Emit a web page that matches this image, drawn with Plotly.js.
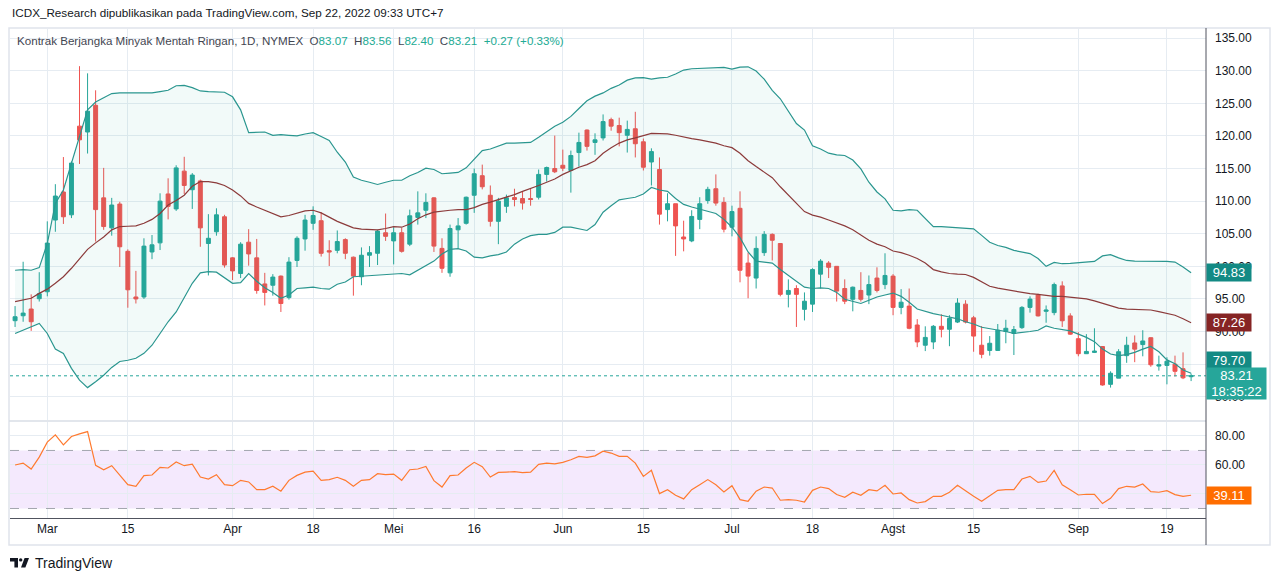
<!DOCTYPE html>
<html>
<head>
<meta charset="utf-8">
<script src="https://cdn.plot.ly/plotly-3.0.1.min.js"></script>
<style>
  html, body { margin: 0; padding: 0; background: #fff; }
  #chart { width: 1280px; height: 581px; }
</style>
</head>
<body>
<div id="chart"></div>
<script>
// trading days shown on the chart (NYMEX holidays left out)
var febDays = [23,24,25,28];
var marDays = [1,2,3,4,7,8,9,10,11,14,15,16,17,18,21,22,23,24,25,28,29,30,31];
var aprDays = [1,4,5,6,7,8,11,12,13,14,18,19,20,21,22,25,26,27,28,29];
var mayDays = [2,3,4,5,6,9,10,11,12,13,16,17,18,19,20,23,24,25,26,27,31];
var junDays = [1,2,3,6,7,8,9,10,13,14,15,16,17,21,22,23,24,27,28,29,30];
var julDays = [1,5,6,7,8,11,12,13,14,15,18,19,20,21,22,25,26,27,28,29];
var augDays = [1,2,3,4,5,8,9,10,11,12,15,16,17,18,19,22,23,24,25,26,29,30,31];
var sepDays = [1,2,6,7,8,9,12,13,14,15,16,19,20,21,22];

var tickDates = ['2022-03-01','2022-03-15','2022-04-01','2022-04-18','2022-05-02','2022-05-16',
  '2022-06-01','2022-06-15','2022-07-01','2022-07-18','2022-08-01','2022-08-15','2022-09-01','2022-09-19'];
var tickText = ['Mar','15','Apr','18','Mei','16','Jun','15','Jul','18','Agst','15','Sep','19'];

var priceTicks = [80,85,90,95,100,105,110,115,120,125,130,135];
var rsiTicks = [40,60,80];

var opens = [91.66,92.42,93.45,95.03,96.1,107.1,111.4,107.9,121.5,120.6,
  124.7,110.5,105.9,109.55,102.3,95.3,95.3,102.2,103.6,111.1,
  108.8,114.6,111.75,113.1,103.5,105.3,107.6,101.3,98.9,103.7,
  101.3,97.3,97.1,98.5,95.2,100.9,104.2,106.6,107.0,102.4,
  102.45,104.1,101.4,98.4,101.7,102.0,105.15,103.9,105.15,103.4,
  107.5,108.6,110.5,102.75,99.0,105.6,106.6,110.9,113.9,110.9,
  106.9,109.2,110.55,110.4,110.4,110.6,114.1,115.0,115.5,114.7,
  117.45,120.9,119.0,119.7,122.5,121.6,120.1,121.1,119.1,116.0,
  114.85,108.7,109.6,104.5,103.9,107.2,110.1,111.9,109.8,106.0,
  108.9,100.5,98.2,102.1,104.9,103.5,95.7,96.6,93.4,94.2,
  98.8,100.5,100.0,96.6,94.95,96.3,95.6,98.2,97.2,98.5,
  93.7,93.9,91.0,87.9,88.4,90.8,90.35,91.45,94.2,92.1,
  87.9,87.1,87.1,90.0,89.7,90.6,93.7,95.6,93.1,92.9,
  97.0,92.4,88.9,86.6,86.8,87.7,81.9,82.85,86.3,88.25,
  88.0,89.05,84.7,84.8,85.0,84.3,83.07];

var highs = [93.9,100.7,95.7,99.1,106.9,112.6,116.76,116.1,130.7,129.6,
  127.0,115.1,110.5,109.9,102.6,99.3,104.3,104.8,111.2,113.5,
  115.5,116.8,114.3,113.3,108.0,108.9,107.9,101.4,103.7,105.7,
  104.2,99.0,98.8,98.6,101.4,104.6,107.9,109.2,108.3,104.0,
  105.5,104.3,101.5,102.9,103.1,105.6,108.1,106.0,105.9,108.7,
  111.5,111.2,110.6,104.3,106.4,107.4,110.7,115.0,115.6,112.4,
  110.5,111.0,111.9,111.5,111.9,114.85,115.3,120.05,117.9,117.75,
  120.5,121.0,120.4,123.3,122.8,122.8,122.35,123.7,119.6,118.1,
  116.7,111.2,109.6,107.0,108.6,110.6,112.2,114.1,110.6,109.3,
  111.5,102.1,104.6,105.4,105.05,103.5,98.0,97.1,96.0,99.7,
  101.1,100.8,100.0,98.0,96.9,99.1,98.6,99.85,102.0,98.8,
  96.5,96.6,91.9,90.8,91.0,92.65,92.5,95.1,94.8,92.4,
  90.85,89.3,91.15,91.8,90.85,93.9,95.4,95.8,94.0,97.5,
  97.7,92.8,89.9,89.6,90.5,87.7,83.9,87.3,89.2,89.4,
  90.2,89.1,86.3,86.05,86.3,86.8,83.56];

var lows = [90.7,91.5,90.1,94.6,95.4,105.3,106.5,107.4,115.7,117.3,
  103.8,105.6,104.7,99.9,93.65,94.3,95.0,101.1,102.5,107.2,
  108.5,111.1,108.8,103.0,98.6,104.7,99.8,97.9,98.2,100.1,
  95.8,94.0,95.5,93.0,94.9,99.9,102.4,105.6,101.5,100.05,
  102.0,101.1,95.5,97.1,99.9,100.2,103.9,100.3,102.1,103.1,
  106.4,107.4,102.2,99.0,98.4,102.75,106.4,108.2,111.8,106.1,
  103.4,108.2,109.2,108.7,109.3,110.25,113.0,114.3,114.6,111.3,
  115.3,117.75,117.1,119.3,120.8,118.4,117.45,116.7,114.7,112.4,
  106.4,106.9,101.6,102.3,103.7,105.7,109.6,109.3,105.2,104.6,
  97.55,95.1,96.6,101.6,100.9,95.4,93.7,90.7,91.7,93.0,
  96.6,98.2,94.6,94.2,93.1,94.6,94.2,96.0,96.5,92.5,
  92.65,90.35,87.6,87.0,87.3,89.1,87.75,91.3,91.25,86.9,
  85.9,86.3,87.1,88.2,86.4,90.4,92.9,92.3,91.35,92.5,
  90.7,89.5,86.2,86.55,86.7,81.7,81.4,82.85,85.2,85.3,
  86.2,84.6,84.0,81.9,83.1,82.7,82.40];

var closes = [92.27,92.83,91.5,95.8,103.57,110.78,107.6,115.84,119.4,123.8,
  108.7,106.1,109.4,103.0,96.4,95.0,103.1,103.3,110.0,109.2,
  115.1,112.4,114.0,105.9,104.3,107.9,100.2,99.3,103.4,101.9,
  96.3,96.0,98.35,94.3,100.65,104.3,107.1,107.8,102.0,102.2,
  103.8,102.0,98.5,101.7,102.1,105.4,104.6,105.15,102.3,107.75,
  108.2,109.8,103.1,99.7,105.8,106.2,110.6,114.2,112.2,106.9,
  110.0,110.5,110.25,109.7,110.25,114.1,115.15,114.5,115.05,117.0,
  119.0,118.4,119.4,122.2,121.5,120.5,121.0,118.8,115.2,117.6,
  108.0,109.6,106.2,104.2,107.65,109.6,111.8,109.7,105.7,108.4,
  99.4,98.5,102.75,104.9,104.0,95.7,96.3,95.7,94.65,99.5,
  100.8,99.85,96.2,94.65,96.8,94.95,97.2,96.3,98.6,93.7,
  94.5,90.5,88.4,89.1,90.8,90.35,92.0,94.36,91.45,89.3,
  86.5,88.2,90.2,90.5,90.3,93.7,94.97,92.4,93.3,97.2,
  91.65,89.6,86.6,86.95,87.0,81.8,83.6,86.9,87.9,87.3,
  88.55,84.9,84.9,85.45,83.9,82.9,83.21];

// Bollinger band lines
var upperBand = [99.4,99.5,99.4,99.8,103.5,109.65,111.7,115.8,119.6,124.0,
  125.2,125.8,126.5,126.6,126.6,126.55,126.5,126.6,126.8,127.0,
  127.7,127.75,127.4,126.9,126.8,126.8,126.7,126.0,124.0,120.5,
  120.5,120.6,120.1,120.2,120.1,120.0,120.3,120.5,119.9,119.3,
  117.5,116.0,113.7,113.2,112.9,112.55,112.9,113.2,113.2,113.9,
  114.4,115.05,114.85,114.2,114.3,114.4,115.1,116.5,117.75,118.0,
  118.5,118.9,118.9,118.9,119.0,119.8,120.6,121.5,122.1,123.0,
  124.2,125.4,126.1,126.6,127.3,127.8,128.55,128.9,128.95,128.7,
  128.9,129.0,129.5,130.1,130.3,130.35,130.35,130.4,130.5,130.25,
  130.55,130.6,129.95,128.7,127.0,125.7,123.9,121.9,120.9,118.5,
  118.0,117.35,117.1,117.0,116.3,114.95,112.9,111.4,110.35,108.6,
  108.5,108.7,108.6,107.3,106.1,106.1,106.0,105.9,105.9,105.75,
  104.75,103.7,103.2,102.9,102.45,102.15,101.95,101.2,100.0,100.6,
  100.4,100.45,100.55,100.65,100.75,101.6,101.8,101.3,100.9,100.8,
  100.8,100.8,100.8,100.75,100.65,99.9,99.0];

var middleBand = [94.6,94.85,95.1,95.85,96.5,97.4,98.4,99.7,101.1,102.6,
  103.6,104.5,105.6,106.1,106.15,106.2,106.6,107.2,108.1,109.4,
  110.1,110.9,112.3,113.0,113.0,112.8,112.4,111.7,110.8,109.65,
  109.1,108.6,108.1,107.6,107.8,108.1,108.5,108.6,108.2,107.55,
  106.9,106.4,105.9,105.7,105.6,105.6,105.8,106.1,106.0,106.5,
  107.3,107.9,108.3,108.5,108.6,108.7,108.7,109.0,109.5,109.85,
  110.2,110.6,111.0,111.5,111.9,112.4,112.9,113.4,114.1,114.7,
  115.2,115.6,116.2,117.35,118.2,118.9,119.4,119.7,120.0,120.4,
  120.35,120.3,120.1,119.8,119.6,119.4,119.2,118.9,118.5,118.2,
  117.35,116.2,115.3,114.4,113.6,112.2,110.9,109.6,108.4,107.85,
  107.55,107.1,106.7,106.2,105.6,104.8,104.0,103.4,103.0,102.35,
  102.1,101.7,101.2,100.5,99.5,99.15,98.9,98.8,98.75,98.3,
  97.6,96.95,96.65,96.45,96.15,96.0,95.8,95.7,95.5,95.4,
  95.4,95.3,95.2,95.0,94.7,94.3,93.9,93.6,93.45,93.4,
  93.45,93.3,93.05,92.8,92.5,91.95,91.35];

var lowerBand = [89.7,90.2,90.8,91.25,89.7,87.3,86.65,84.35,82.55,81.4,
  82.3,83.3,84.5,85.4,85.6,85.9,86.65,87.9,89.7,91.5,
  93.0,95.1,97.4,99.0,99.2,99.1,98.25,97.4,97.5,98.9,
  97.7,96.7,96.0,95.1,95.6,96.6,96.7,96.8,96.6,96.5,
  97.25,97.6,98.4,98.5,98.5,98.7,98.8,98.9,98.9,98.7,
  99.4,100.05,100.8,101.9,102.6,102.7,102.35,101.4,101.3,101.6,
  101.8,102.2,103.4,104.2,104.7,104.9,104.9,105.2,106.0,106.0,
  105.8,105.5,106.4,108.3,109.3,110.2,110.4,110.6,111.1,112.1,
  111.7,111.5,110.4,109.5,109.1,108.8,108.5,108.1,107.2,106.0,
  104.4,102.2,100.8,100.6,100.5,99.5,98.6,97.75,96.8,96.6,
  96.7,96.6,96.0,94.95,94.6,94.3,94.8,95.3,95.6,95.9,
  95.4,94.5,93.45,93.05,92.75,92.5,92.25,91.95,91.5,91.15,
  90.65,90.45,90.2,90.0,89.7,89.8,90.0,90.2,90.85,90.5,
  90.35,90.1,89.6,89.1,88.45,87.3,86.55,86.3,86.45,86.8,
  87.3,87.7,86.9,85.65,85.05,84.1,83.6];

var rsi = [60.0,61.3,57.2,65.4,75.7,80.75,73.9,79.6,81.4,83.0,
  59.7,56.7,59.5,52.6,46.4,45.3,52.6,53.1,58.3,57.9,
  62.0,59.5,60.6,51.7,50.3,53.3,46.4,45.7,49.4,48.3,
  43.0,43.0,45.3,41.9,49.4,52.8,55.1,55.8,49.4,49.9,
  51.5,49.4,45.3,49.4,49.9,54.0,53.3,53.75,49.4,56.7,
  57.2,59.0,49.2,44.8,52.6,53.1,57.9,61.8,58.8,51.7,
  54.9,55.1,55.4,54.7,55.1,60.4,61.3,60.8,61.8,63.6,
  65.9,65.2,66.3,69.5,68.2,65.9,65.9,61.3,52.15,56.3,
  40.3,43.0,39.1,36.6,43.0,46.4,49.9,46.4,41.4,45.7,
  36.1,35.0,41.9,44.8,44.1,35.7,36.1,35.7,34.5,42.5,
  44.8,43.7,39.6,37.7,41.2,39.1,43.0,42.1,46.0,40.0,
  40.7,36.1,33.8,34.75,38.4,38.4,41.2,46.0,42.1,38.4,
  35.0,38.9,42.5,43.0,43.0,50.3,52.15,48.0,48.9,56.3,
  46.4,43.0,39.3,39.8,39.8,33.4,37.05,43.7,45.3,44.8,
  46.9,41.6,41.2,42.3,39.6,38.4,39.11];

// labels shown on the price scale
var upperLabel = '94.83', middleLabel = '87.26', lowerLabel = '79.70';
var countdown = '18:35:22';
var changeText = '+0.27 (+0.33%)';
var symbolName = 'Kontrak Berjangka Minyak Mentah Ringan, 1D, NYMEX';
var credit = 'ICDX_Research dipublikasikan pada TradingView.com, Sep 22, 2022 09:33 UTC+7';

function monthDates(m, days) {
  return days.map(function(d) { return '2022-' + m + '-' + (d < 10 ? '0' : '') + d; });
}
var dates = [].concat(monthDates('02', febDays), monthDates('03', marDays), monthDates('04', aprDays),
  monthDates('05', mayDays), monthDates('06', junDays), monthDates('07', julDays),
  monthDates('08', augDays), monthDates('09', sepDays));

var W = 1280, H = 581, ML = 10, MR = 74, MT = 29, MB = 63;
function px(x) { return (x - ML) / (W - ML - MR); }
function py(y) { return (H - MB - y) / (H - MT - MB); }

var last = dates.length - 1;
var teal = '#26a69a', red = '#ef5350', bandCol = '#2a968f', grid = '#e6ecf2', txt = '#131722';

var data = [
  { x: dates, y: lowerBand, type: 'scatter', mode: 'lines', line: {color: bandCol, width: 1.2}, hoverinfo: 'skip' },
  { x: dates, y: upperBand, type: 'scatter', mode: 'lines', line: {color: bandCol, width: 1.2},
    fill: 'tonexty', fillcolor: 'rgba(38,166,154,0.06)', hoverinfo: 'skip' },
  { x: dates, y: middleBand, type: 'scatter', mode: 'lines', line: {color: '#8c3b3b', width: 1.2}, hoverinfo: 'skip' },
  { x: dates, open: opens, high: highs, low: lows, close: closes, type: 'candlestick',
    increasing: {line: {color: teal, width: 1}, fillcolor: teal},
    decreasing: {line: {color: red, width: 1}, fillcolor: red},
    whiskerwidth: 0, hoverinfo: 'skip' },
  { x: dates, y: rsi, type: 'scatter', mode: 'lines', yaxis: 'y2', line: {color: '#ff7a2f', width: 1.2}, hoverinfo: 'skip' }
];

function lbl(text, y, yref, bg, yshift) {
  return { xref: 'paper', yref: yref, x: 1, y: y, xanchor: 'left', yanchor: 'middle', yshift: yshift || 0,
    text: text, showarrow: false, bgcolor: bg, font: {color: '#fff', size: 13}, width: 40, height: 13, borderpad: 2 };
}

var gap = '&nbsp; ';
var hdr = '<span style="color:#434651">' + symbolName + '</span>' + gap +
  '<span style="color:#434651">O</span><span style="color:#22ab94">' + opens[last].toFixed(2) + '</span>' + gap +
  '<span style="color:#434651">H</span><span style="color:#22ab94">' + highs[last].toFixed(2) + '</span>' + gap +
  '<span style="color:#434651">L</span><span style="color:#22ab94">' + lows[last].toFixed(2) + '</span>' + gap +
  '<span style="color:#434651">C</span><span style="color:#22ab94">' + closes[last].toFixed(2) + '</span>' + gap +
  '<span style="color:#22ab94">' + changeText + '</span>';

var annotations = [
  { xref: 'paper', yref: 'paper', x: px(10), y: py(12), xanchor: 'left', yanchor: 'middle', showarrow: false,
    text: credit, font: {size: 11.7, color: txt} },
  { xref: 'paper', yref: 'paper', x: px(15), y: py(41), xanchor: 'left', yanchor: 'middle', showarrow: false,
    text: hdr, font: {size: 11.6} },
  { xref: 'paper', yref: 'paper', x: px(33), y: py(563), xanchor: 'left', yanchor: 'middle', showarrow: false,
    text: 'TradingView', font: {size: 14, color: txt} },
  lbl(upperLabel, upperBand[last], 'y', '#138a84'),
  lbl(middleLabel, middleBand[last], 'y', '#862424'),
  lbl(lowerLabel, lowerBand[last], 'y', '#138a84', 13),
  { xref: 'paper', yref: 'y', x: 1, y: closes[last], xanchor: 'left', yanchor: 'top', yshift: 8.5,
    text: closes[last].toFixed(2) + '<br>' + countdown, showarrow: false, bgcolor: teal,
    font: {color: '#fff', size: 13}, width: 55, height: 27, borderpad: 2 },
  lbl(rsi[last].toFixed(2), rsi[last], 'y2', '#ff6d00')
];

var shapes = [
  // RSI 30-70 zone
  { type: 'rect', xref: 'paper', yref: 'y2', x0: 0, x1: 1, y0: 30, y1: 70, fillcolor: 'rgba(180,100,240,0.14)',
    line: {width: 0}, layer: 'below' },
  { type: 'line', xref: 'paper', yref: 'y2', x0: 0, x1: 1, y0: 70, y1: 70, line: {color: '#a3a6af', width: 1, dash: 'dash'} },
  { type: 'line', xref: 'paper', yref: 'y2', x0: 0, x1: 1, y0: 30, y1: 30, line: {color: '#a3a6af', width: 1, dash: 'dash'} },
  // last price
  { type: 'line', xref: 'paper', yref: 'y', x0: 0, x1: 1, y0: closes[last], y1: closes[last],
    line: {color: teal, width: 1, dash: 'dot'} },
  // frame, pane separator, price scale border
  { type: 'rect', xref: 'paper', yref: 'paper', x0: px(9), x1: px(1270), y0: py(545), y1: py(28),
    line: {color: '#e0e3eb', width: 1.5} },
  { type: 'line', xref: 'paper', yref: 'paper', x0: px(9), x1: 1, y0: py(421), y1: py(421),
    line: {color: '#d9dee6', width: 1.5} },
  { type: 'line', xref: 'paper', yref: 'paper', x0: 1, x1: 1, y0: py(545), y1: py(28),
    line: {color: '#50535e', width: 1} },
  // TradingView mark
  { type: 'rect', xref: 'paper', yref: 'paper', x0: px(10), x1: px(18), y0: py(561.5), y1: py(558),
    fillcolor: txt, line: {width: 0} },
  { type: 'rect', xref: 'paper', yref: 'paper', x0: px(14.4), x1: px(18), y0: py(567.5), y1: py(558),
    fillcolor: txt, line: {width: 0} },
  { type: 'circle', xref: 'paper', yref: 'paper', x0: px(19), x1: px(22.4), y0: py(561.6), y1: py(558.2),
    fillcolor: txt, line: {width: 0} },
  { type: 'path', xref: 'paper', yref: 'paper', fillcolor: txt, line: {width: 0},
    path: 'M ' + px(24.6) + ',' + py(558) + ' L ' + px(29) + ',' + py(558) + ' L ' + px(25.4) + ',' + py(567.5) +
      ' L ' + px(21) + ',' + py(567.5) + ' Z' }
];

var layout = {
  width: W, height: H,
  margin: {l: ML, r: MR, t: MT, b: MB, pad: 0},
  paper_bgcolor: '#fff', plot_bgcolor: '#fff',
  font: {family: 'Liberation Sans, Arial, sans-serif', size: 12, color: txt},
  showlegend: false,
  hovermode: false,
  xaxis: {
    type: 'category', range: [-0.63, 147.85], anchor: 'y2',
    tickmode: 'array', tickvals: tickDates, ticktext: tickText,
    showgrid: true, gridcolor: grid, showline: true, linecolor: '#50535e', linewidth: 1,
    ticks: '', tickfont: {size: 12, color: txt}, rangeslider: {visible: false}, fixedrange: true
  },
  yaxis: {
    domain: [0.2, 1], side: 'right', range: [76.4, 136.4], anchor: 'x',
    tickmode: 'array', tickvals: priceTicks, ticktext: priceTicks.map(function(v) { return v.toFixed(2); }),
    showgrid: true, gridcolor: grid, zeroline: false, showline: false, ticks: '',
    ticklabelstandoff: 8, tickfont: {size: 12, color: txt}, fixedrange: true
  },
  yaxis2: {
    domain: [0, 0.196], side: 'right', range: [23.45, 89.5], anchor: 'x',
    tickmode: 'array', tickvals: rsiTicks, ticktext: rsiTicks.map(function(v) { return v.toFixed(2); }),
    showgrid: true, gridcolor: grid, zeroline: false, showline: false, ticks: '',
    ticklabelstandoff: 8, tickfont: {size: 12, color: txt}, fixedrange: true
  },
  annotations: annotations,
  shapes: shapes
};

Plotly.newPlot('chart', data, layout, {displayModeBar: false, staticPlot: true});
</script>
</body>
</html>
